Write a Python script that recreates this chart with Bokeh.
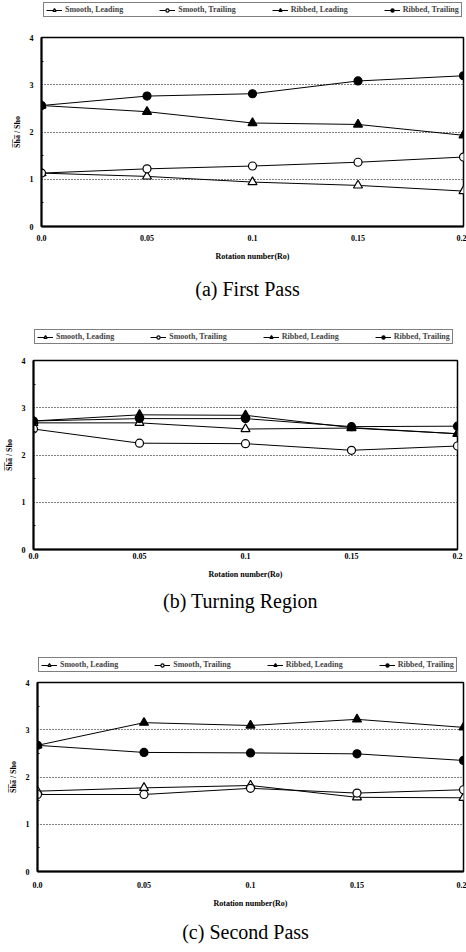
from bokeh.plotting import figure
from bokeh.models import Legend, LegendItem, FixedTicker, Title, Range1d
from bokeh.embed import file_html
from bokeh.resources import INLINE

ro = [0.0, 0.05, 0.1, 0.15, 0.2]
x_tick_labels = ["0.0", "0.05", "0.1", "0.15", "0.2"]
y_ticks = [0, 1, 2, 3, 4]
series_names = ["Smooth, Leading", "Smooth, Trailing", "Ribbed, Leading", "Ribbed, Trailing"]

first_smooth_leading = [1.13, 1.06, 0.94, 0.87, 0.75]
first_smooth_trailing = [1.13, 1.22, 1.28, 1.36, 1.47]
first_ribbed_leading = [2.56, 2.43, 2.19, 2.16, 1.93]
first_ribbed_trailing = [2.56, 2.76, 2.81, 3.08, 3.19]

turn_smooth_leading = [2.68, 2.68, 2.55, 2.57, 2.45]
turn_smooth_trailing = [2.55, 2.25, 2.24, 2.10, 2.19]
turn_ribbed_leading = [2.72, 2.85, 2.84, 2.58, 2.45]
turn_ribbed_trailing = [2.72, 2.77, 2.77, 2.60, 2.61]

second_smooth_leading = [1.70, 1.77, 1.82, 1.57, 1.56]
second_smooth_trailing = [1.63, 1.63, 1.76, 1.66, 1.73]
second_ribbed_leading = [2.67, 3.15, 3.09, 3.22, 3.05]
second_ribbed_trailing = [2.67, 2.52, 2.51, 2.49, 2.35]

captions = ["(a)  First  Pass", "(b)  Turning  Region", "(c)  Second  Pass"]
y_label = "S\u0305h\u0305a\u0305 / Sho"
x_label = "Rotation number(Ro)"

SERIF = "Liberation Serif"
markers = ["triangle", "circle", "triangle", "circle"]
fills = ["white", "white", "black", "black"]


def add_series(p, xs, series, msize=8):
    out = []
    for name, vals, mk, fc in zip(series_names, series, markers, fills):
        ln = p.line(xs, vals, line_color="black", line_width=1)
        sc = p.scatter(xs, vals, marker=mk, size=msize if mk == "circle" else msize + 1,
                       fill_color=fc, line_color="black", line_width=1.2)
        out.append((name, ln, sc))
    return out


def make_legend_fig(series, height, lx, ly):
    # the series are drawn outside the visible y-range; only the legend shows
    q = figure(width=466, height=height, x_range=Range1d(0, 0.2), y_range=Range1d(10, 11),
               output_backend="svg", toolbar_location=None,
               x_axis_location=None, y_axis_location=None,
               min_border_left=0, min_border_right=0, min_border_top=0, min_border_bottom=0)
    q.grid.visible = False
    q.outline_line_color = None
    q.background_fill_color = "white"
    q.border_fill_color = "white"
    rs = add_series(q, ro, series, msize=6)
    items = [LegendItem(label=n, renderers=[ln, sc]) for n, ln, sc in rs]
    leg = Legend(items=items, orientation="horizontal", location=(lx, ly),
                 label_text_font=SERIF, label_text_font_style="bold",
                 label_text_font_size="8px", label_height=8, label_standoff=3,
                 glyph_width=16, glyph_height=8, spacing=36, padding=2, margin=0,
                 border_line_color="black", border_line_width=1,
                 background_fill_color="white", background_fill_alpha=1)
    q.add_layout(leg, "center")
    return q


def make_panel(caption, series, height, left, right, top, bottom,
               tick_sd, title_sd, cap_sd):
    p = figure(width=466, height=height, x_range=Range1d(0, 0.2), y_range=Range1d(0, 4),
               output_backend="svg", toolbar_location=None,
               min_border_left=left, min_border_right=right,
               min_border_top=top, min_border_bottom=bottom)
    p.background_fill_color = "white"
    p.border_fill_color = "white"
    p.outline_line_color = "black"
    p.outline_line_width = 1.5

    add_series(p, ro, series)

    p.xgrid.visible = False
    p.ygrid.ticker = FixedTicker(ticks=[1, 2, 3])
    p.ygrid.grid_line_color = "black"
    p.ygrid.grid_line_dash = "1 2"
    p.ygrid.grid_line_width = 1

    xa = p.xaxis[0]
    xa.ticker = FixedTicker(ticks=ro)
    xa.major_label_overrides = {t: s for t, s in zip(ro, x_tick_labels)}
    xa.axis_label = x_label
    ya = p.yaxis[0]
    ya.ticker = FixedTicker(ticks=y_ticks, minor_ticks=[0.5, 1.5, 2.5, 3.5])
    ya.axis_label = y_label
    for ax in (xa, ya):
        ax.axis_line_width = 2
        ax.axis_line_color = "black"
        ax.major_tick_out = 0
        ax.major_tick_in = 0
        ax.minor_tick_out = 0
        ax.minor_tick_in = 0
        ax.major_label_text_font = SERIF
        ax.major_label_text_font_style = "bold"
        ax.major_label_text_font_size = "8px"
        ax.major_label_text_color = "black"
        ax.axis_label_text_font = SERIF
        ax.axis_label_text_font_style = "bold"
        ax.axis_label_text_font_size = "8px"
        ax.axis_label_text_color = "black"
    ya.minor_tick_in = 2
    ya.minor_tick_line_color = "black"
    xa.major_label_standoff = tick_sd
    xa.axis_label_standoff = title_sd
    ya.major_label_standoff = 8
    ya.axis_label_standoff = 5

    p.add_layout(Title(text=caption, align="center", text_font=SERIF,
                       text_font_size="20px", text_font_style="normal",
                       text_color="black", standoff=cap_sd), "below")
    return p


sa = [first_smooth_leading, first_smooth_trailing, first_ribbed_leading, first_ribbed_trailing]
sb = [turn_smooth_leading, turn_smooth_trailing, turn_ribbed_leading, turn_ribbed_trailing]
sc_ = [second_smooth_leading, second_smooth_trailing, second_ribbed_leading, second_ribbed_trailing]

la = make_legend_fig(sa, 20, 43, 3)
pa = make_panel(captions[0], sa, 300, 41, 3, 17, 94, 8, 8, 25)
lb = make_legend_fig(sb, 28, 34, 4)
pb = make_panel(captions[1], sb, 297, 33, 9, 12, 96, 3, 8, 13)
lc = make_legend_fig(sc_, 30, 38, 3)
pc = make_panel(captions[2], sc_, 277, 37, 3, 7, 81, 10, 8, 16)

open("out.html", "w").write(file_html([la, pa, lb, pb, lc, pc], INLINE))
